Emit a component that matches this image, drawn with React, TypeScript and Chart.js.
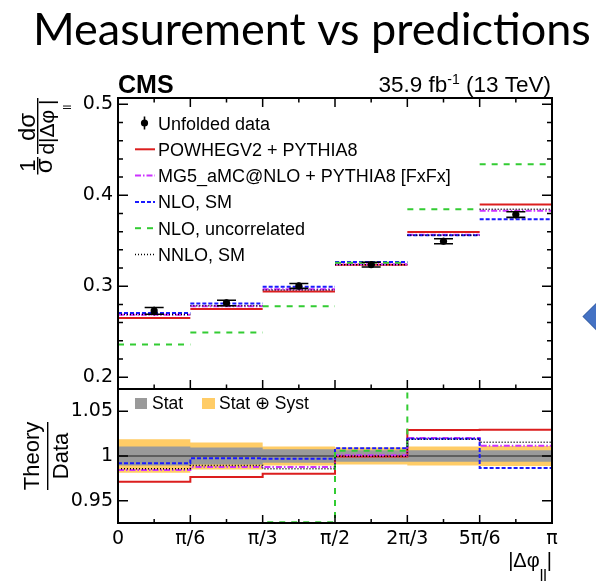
import React, { useEffect, useRef } from "react";
import { Chart, registerables } from "chart.js";

Chart.register(...registerables);

const PI = Math.PI;

// |Δφ_ll| binning and axis ticks
const binEdges = [0, PI / 6, PI / 3, PI / 2, (2 * PI) / 3, (5 * PI) / 6, PI];
const xTickLabels = ["0", "π/6", "π/3", "π/2", "2π/3", "5π/6", "π"];
const mainYTicks = [0.2, 0.3, 0.4, 0.5];
const ratioYTicks = [0.95, 1, 1.05];

// Normalised differential cross section, unfolded data
const unfoldedData = [0.2729, 0.2816, 0.3003, 0.3238, 0.3495, 0.3788];
const unfoldedErr = [0.0037, 0.003, 0.0027, 0.0026, 0.0027, 0.0031];

// Theory predictions per bin
const powheg = [0.265, 0.275, 0.2943, 0.3236, 0.3597, 0.3899];
const mg5 = [0.2686, 0.2781, 0.2966, 0.3241, 0.3565, 0.3831];
const nloSM = [0.2707, 0.2809, 0.2994, 0.3266, 0.3562, 0.3737];
const nloUncorr = [0.2359, 0.2491, 0.278, 0.3257, 0.3846, 0.4341];
const nnloSM = [0.269, 0.2786, 0.296, 0.3237, 0.3561, 0.3846];

// Relative uncertainty of the data (half widths of the ratio bands)
const statRel = [0.0105, 0.0095, 0.0075, 0.0065, 0.0064, 0.0064];
const totalRel = [0.0188, 0.015, 0.0105, 0.0095, 0.0105, 0.0113];

const SANS = '"Liberation Sans", Arial, Helvetica, sans-serif';
const TICK_FONT = '"DejaVu Sans", sans-serif';

const predictions = [
  { label: "POWHEGV2 + PYTHIA8", values: powheg, color: "#dc1e1e", dash: [] as number[], width: 2 },
  { label: "MG5_aMC@NLO + PYTHIA8 [FxFx]", values: mg5, color: "#cc33ff", dash: [6, 2, 1.5, 2], width: 2 },
  { label: "NLO, SM", values: nloSM, color: "#1a1aff", dash: [4, 2], width: 2 },
  { label: "NLO, uncorrelated", values: nloUncorr, color: "#33cc33", dash: [6, 6], width: 2 },
  { label: "NNLO, SM", values: nnloSM, color: "#000000", dash: [1, 2], width: 1.5 },
];

const STAT_COLOR = "#9a9a9a";
const TOTAL_COLOR = "#ffcc66";

const binCenters = unfoldedData.map((_, i) => (binEdges[i] + binEdges[i + 1]) / 2);

// horizontal bar per bin, no vertical connectors
const segments = (vals: number[]) => {
  const pts: { x: number; y: number | null }[] = [];
  vals.forEach((v, i) => {
    pts.push({ x: binEdges[i], y: v }, { x: binEdges[i + 1], y: v });
    if (i < vals.length - 1) pts.push({ x: binEdges[i + 1], y: null });
  });
  return pts;
};

// histogram outline (used with stepped lines)
const steps = (vals: number[]) => [
  ...vals.map((v, i) => ({ x: binEdges[i], y: v })),
  { x: binEdges[vals.length], y: vals[vals.length - 1] },
];

const toRatio = (vals: number[]) => vals.map((v, i) => v / unfoldedData[i]);

type Part = { text: string; font: string; dy?: number };

function partsWidth(ctx: CanvasRenderingContext2D, parts: Part[]) {
  let w = 0;
  for (const p of parts) {
    ctx.font = p.font;
    w += ctx.measureText(p.text).width;
  }
  return w;
}

function drawParts(ctx: CanvasRenderingContext2D, parts: Part[], x: number, y: number) {
  let cx = x;
  for (const p of parts) {
    ctx.font = p.font;
    ctx.fillText(p.text, cx, y + (p.dy || 0));
    cx += ctx.measureText(p.text).width;
  }
}

function centeredText(ctx: CanvasRenderingContext2D, text: string, font: string, cx: number, y: number) {
  ctx.font = font;
  const w = ctx.measureText(text).width;
  ctx.fillText(text, cx - w / 2, y);
}

const decorPlugin = {
  id: "cmsDecor",
  beforeDatasetDraw(chart: any, args: any) {
    const scale = chart.scales[args.meta.yAxisID];
    const { left, right } = chart.chartArea;
    const ctx = chart.ctx;
    ctx.save();
    ctx.beginPath();
    ctx.rect(left, scale.top, right - left, scale.bottom - scale.top);
    ctx.clip();
  },
  afterDatasetDraw(chart: any) {
    chart.ctx.restore();
  },
  afterDatasetsDraw(chart: any) {
    const ctx = chart.ctx;
    const xs = chart.scales.x;
    const ys = chart.scales.y;
    ctx.save();
    ctx.strokeStyle = "#000";
    ctx.lineWidth = 1.6;
    unfoldedData.forEach((v, i) => {
      const px = xs.getPixelForValue(binCenters[i]);
      const hi = ys.getPixelForValue(v + unfoldedErr[i]);
      const lo = ys.getPixelForValue(v - unfoldedErr[i]);
      ctx.beginPath();
      ctx.moveTo(px, hi - 1);
      ctx.lineTo(px, lo + 1);
      ctx.moveTo(px - 9.5, hi);
      ctx.lineTo(px + 9.5, hi);
      ctx.moveTo(px - 9.5, lo);
      ctx.lineTo(px + 9.5, lo);
      ctx.stroke();
    });
    ctx.restore();
  },
  afterDraw(chart: any) {
    const ctx: CanvasRenderingContext2D = chart.ctx;
    const { left, right } = chart.chartArea;
    const xs = chart.scales.x;
    const ys = chart.scales.y;
    const yr = chart.scales.yR;
    ctx.save();
    ctx.fillStyle = "#000";
    ctx.strokeStyle = "#000";

    // inward tick marks
    ctx.lineWidth = 1.5;
    ctx.beginPath();
    const xTick = (yEdge: number, dir: number, len: number, lenMinor: number) => {
      for (let i = 1; i < binEdges.length - 1; i++) {
        const px = xs.getPixelForValue(binEdges[i]);
        ctx.moveTo(px, yEdge);
        ctx.lineTo(px, yEdge + dir * len);
      }
      for (let i = 0; i < binEdges.length - 1; i++) {
        const px = xs.getPixelForValue(binCenters[i]);
        ctx.moveTo(px, yEdge);
        ctx.lineTo(px, yEdge + dir * lenMinor);
      }
    };
    xTick(ys.bottom, -1, 9, 4.5);
    xTick(ys.top, 1, 9, 4.5);
    xTick(yr.bottom, -1, 8, 4);
    for (let k = 0; k <= 16; k++) {
      const v = 0.18 + k * 0.02;
      if (v < ys.min || v > ys.max) continue;
      const major = mainYTicks.some((t) => Math.abs(t - v) < 1e-6);
      const py = ys.getPixelForValue(v);
      const len = major ? 10 : 5;
      ctx.moveTo(left, py);
      ctx.lineTo(left + len, py);
      ctx.moveTo(right, py);
      ctx.lineTo(right - len, py);
    }
    ratioYTicks.forEach((v) => {
      const py = yr.getPixelForValue(v);
      ctx.moveTo(left, py);
      ctx.lineTo(left + 10, py);
      ctx.moveTo(right, py);
      ctx.lineTo(right - 10, py);
    });
    ctx.stroke();

    // panel frames
    ctx.lineWidth = 2;
    ctx.strokeRect(left, ys.top, right - left, ys.bottom - ys.top);
    ctx.strokeRect(left, yr.top, right - left, yr.bottom - yr.top);

    // slide heading
    ctx.textBaseline = "alphabetic";
    ctx.font = '45px Lato, "Open Sans", sans-serif';
    ctx.fillText("Measurement vs predictions", 33, 45);

    // experiment and luminosity labels
    ctx.font = `bold 25px ${SANS}`;
    ctx.fillText("CMS", 118, 93);
    const lumi: Part[] = [
      { text: "35.9 fb", font: `22.5px ${SANS}` },
      { text: "-1", font: `14px ${SANS}`, dy: -8 },
      { text: " (13 TeV)", font: `22.5px ${SANS}` },
    ];
    drawParts(ctx, lumi, 551 - partsWidth(ctx, lumi), 92);

    // legend of the upper panel
    const lx0 = 135;
    const lx1 = 155;
    const textX = 158;
    const base0 = 129.5;
    const stepY = 26.3;
    ctx.font = `18px ${SANS}`;
    ctx.fillText("Unfolded data", textX, base0);
    const mcy = base0 - 6.5;
    ctx.lineWidth = 1.6;
    ctx.beginPath();
    ctx.moveTo(144.5, mcy - 6.5);
    ctx.lineTo(144.5, mcy + 6.5);
    ctx.stroke();
    ctx.beginPath();
    ctx.arc(144.5, mcy, 3.6, 0, 2 * PI);
    ctx.fill();
    predictions.forEach((p, k) => {
      const by = base0 + (k + 1) * stepY;
      const ly = by - 6.5;
      ctx.save();
      ctx.strokeStyle = p.color;
      ctx.lineWidth = p.width;
      ctx.setLineDash(p.dash);
      ctx.beginPath();
      ctx.moveTo(lx0, ly);
      ctx.lineTo(lx1, ly);
      ctx.stroke();
      ctx.restore();
      ctx.font = `18px ${SANS}`;
      ctx.fillText(p.label, textX, by);
    });

    // legend of the ratio panel
    ctx.fillStyle = STAT_COLOR;
    ctx.fillRect(135, 398, 12, 11);
    ctx.fillStyle = TOTAL_COLOR;
    ctx.fillRect(202, 398, 13, 11);
    ctx.fillStyle = "#000";
    ctx.font = `17.5px ${SANS}`;
    ctx.fillText("Stat", 152, 408.5);
    ctx.fillText("Stat \u2295 Syst", 219, 408.5);

    // x-axis title
    const xTitle: Part[] = [
      { text: "|Δφ", font: `20px ${SANS}` },
      { text: "ll", font: `16px ${SANS}`, dy: 14 },
      { text: "|", font: `20px ${SANS}` },
    ];
    drawParts(ctx, xTitle, 552 - partsWidth(ctx, xTitle), 567);

    // y-axis title of the upper panel
    ctx.save();
    ctx.translate(37.7, 175);
    ctx.rotate(-PI / 2);
    ctx.lineWidth = 1.4;
    ctx.beginPath();
    ctx.moveTo(0.5, 0);
    ctx.lineTo(18, 0);
    ctx.moveTo(21, 0);
    ctx.lineTo(77, 0);
    ctx.stroke();
    centeredText(ctx, "1", `22px ${SANS}`, 9.25, -2.5);
    centeredText(ctx, "σ", `24px ${SANS}`, 9.25, 14);
    centeredText(ctx, "dσ", `24px ${SANS}`, 48, -2.5);
    const den: Part[] = [
      { text: "d|Δφ", font: `21px ${SANS}` },
      { text: "ll", font: `11px ${SANS}`, dy: 17 },
      { text: "|", font: `21px ${SANS}` },
    ];
    drawParts(ctx, den, 48 - partsWidth(ctx, den) / 2, 16.5);
    ctx.restore();

    // y-axis title of the ratio panel
    ctx.save();
    ctx.translate(47.7, 456);
    ctx.rotate(-PI / 2);
    ctx.lineWidth = 1.4;
    ctx.beginPath();
    ctx.moveTo(-34, 0);
    ctx.lineTo(34, 0);
    ctx.stroke();
    centeredText(ctx, "Theory", `22px ${SANS}`, 0, -9);
    centeredText(ctx, "Data", `22px ${SANS}`, 0, 20);
    ctx.restore();

    ctx.restore();
  },
};

export default function App() {
  const canvasRef = useRef<HTMLCanvasElement | null>(null);

  useEffect(() => {
    const canvas = canvasRef.current;
    if (!canvas) return;

    const datasets: any[] = [];
    datasets.push({
      label: "Unfolded data",
      data: unfoldedData.map((v, i) => ({ x: binCenters[i], y: v })),
      yAxisID: "y",
      showLine: false,
      pointRadius: 3.6,
      pointBackgroundColor: "#000",
      pointBorderColor: "#000",
      pointBorderWidth: 0,
      order: 0,
    });
    predictions.forEach((p, k) => {
      datasets.push({
        label: p.label,
        data: segments(p.values),
        yAxisID: "y",
        borderColor: p.color,
        borderWidth: p.width,
        borderDash: p.dash,
        pointRadius: 0,
        fill: false,
        spanGaps: false,
        order: 10 - k,
      });
    });
    // uncertainty bands of the ratio panel
    datasets.push({
      label: "total up",
      data: steps(totalRel.map((s) => 1 + s)),
      yAxisID: "yR",
      stepped: true,
      borderWidth: 0,
      pointRadius: 0,
      fill: false,
      order: 40,
    });
    datasets.push({
      label: "Stat \u2295 Syst",
      data: steps(totalRel.map((s) => 1 - s)),
      yAxisID: "yR",
      stepped: true,
      borderWidth: 0,
      pointRadius: 0,
      fill: "-1",
      backgroundColor: TOTAL_COLOR,
      order: 39,
    });
    datasets.push({
      label: "stat up",
      data: steps(statRel.map((s) => 1 + s)),
      yAxisID: "yR",
      stepped: true,
      borderWidth: 0,
      pointRadius: 0,
      fill: false,
      order: 38,
    });
    datasets.push({
      label: "Stat",
      data: steps(statRel.map((s) => 1 - s)),
      yAxisID: "yR",
      stepped: true,
      borderWidth: 0,
      pointRadius: 0,
      fill: "-1",
      backgroundColor: STAT_COLOR,
      order: 37,
    });
    datasets.push({
      label: "unity",
      data: [
        { x: 0, y: 1 },
        { x: PI, y: 1 },
      ],
      yAxisID: "yR",
      borderColor: "#222",
      borderWidth: 1,
      pointRadius: 0,
      fill: false,
      order: 30,
    });
    predictions.forEach((p, k) => {
      datasets.push({
        label: p.label + " / data",
        data: steps(toRatio(p.values)),
        yAxisID: "yR",
        stepped: true,
        borderColor: p.color,
        borderWidth: p.width,
        borderDash: p.dash,
        pointRadius: 0,
        fill: false,
        order: 20 - k,
      });
    });

    const tickFont = { family: TICK_FONT, size: 19 };

    const chart = new Chart(canvas, {
      type: "line",
      data: { datasets },
      options: {
        animation: false,
        responsive: true,
        maintainAspectRatio: false,
        events: [],
        layout: { padding: { top: 98, right: 44, bottom: 0, left: 0 } },
        plugins: {
          legend: { display: false },
          tooltip: { enabled: false },
        },
        elements: { line: { tension: 0 } },
        scales: {
          x: {
            type: "linear",
            position: "bottom",
            min: 0,
            max: PI,
            grid: { display: false, drawTicks: false },
            border: { display: false },
            afterBuildTicks: (s: any) => {
              s.ticks = binEdges.map((v) => ({ value: v }));
            },
            afterFit: (s: any) => {
              s.height = 60;
            },
            ticks: {
              autoSkip: false,
              maxRotation: 0,
              padding: 5,
              color: "#000",
              font: tickFont,
              callback: (_v: any, i: number) => xTickLabels[i],
            },
          },
          y: {
            type: "linear",
            position: "left",
            stack: "panels",
            stackWeight: 291,
            weight: 1,
            min: 0.187,
            max: 0.507,
            grid: { display: false, drawTicks: false },
            border: { display: false },
            afterBuildTicks: (s: any) => {
              s.ticks = mainYTicks.map((v) => ({ value: v }));
            },
            afterFit: (s: any) => {
              s.width = 118;
            },
            ticks: {
              autoSkip: false,
              padding: 5,
              color: "#000",
              font: tickFont,
              callback: (v: any) => String(v),
            },
          },
          yR: {
            type: "linear",
            position: "left",
            stack: "panels",
            stackWeight: 134,
            weight: 0,
            min: 0.925,
            max: 1.075,
            grid: { display: false, drawTicks: false },
            border: { display: false },
            afterBuildTicks: (s: any) => {
              s.ticks = ratioYTicks.map((v) => ({ value: v }));
            },
            afterFit: (s: any) => {
              s.width = 118;
            },
            ticks: {
              autoSkip: false,
              padding: 5,
              color: "#000",
              font: tickFont,
              callback: (v: any) => String(v),
            },
          },
        },
      } as any,
      plugins: [decorPlugin],
    });

    return () => chart.destroy();
  }, []);

  return (
    <div
      style={{
        position: "fixed",
        left: 0,
        top: 0,
        width: 596,
        height: 583,
        overflow: "hidden",
        background: "#fff",
      }}
    >
      <canvas ref={canvasRef} />
      <div
        style={{
          position: "absolute",
          left: 601 - 13.45,
          top: 316 - 13.45,
          width: 26.9,
          height: 26.9,
          background: "#4472c4",
          border: "1px solid #3a62a8",
          boxSizing: "border-box",
          transform: "rotate(45deg)",
        }}
      />
    </div>
  );
}
